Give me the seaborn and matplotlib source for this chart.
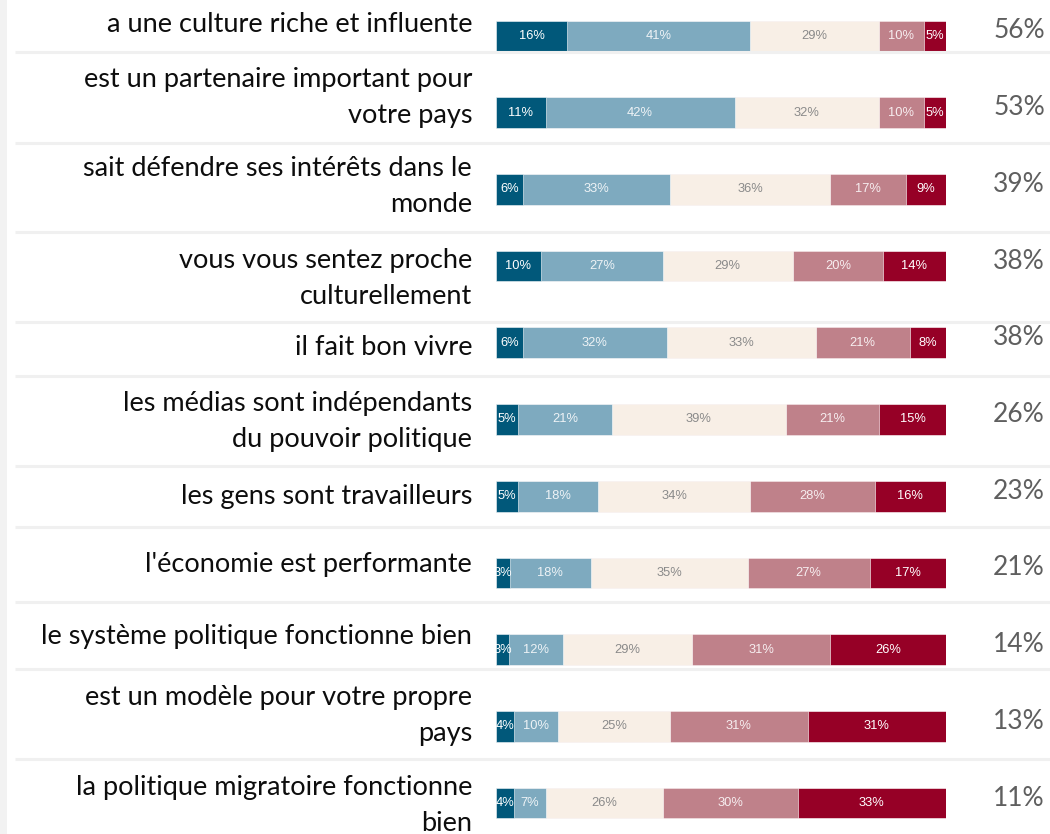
import numpy as np
import pandas as pd
import seaborn as sns
import matplotlib.pyplot as plt


# Data
labels = [
    'a une culture riche et influente',
    'est un partenaire important pour\nvotre pays',
    'sait défendre ses intérêts dans le\nmonde',
    'vous vous sentez proche\nculturellement',
    'il fait bon vivre',
    'les médias sont indépendants\ndu pouvoir politique',
    'les gens sont travailleurs',
    "l'économie est performante",
    'le système politique fonctionne bien',
    'est un modèle pour votre propre\npays',
    'la politique migratoire fonctionne\nbien',
]
very_pos = [16, 11, 6, 10, 6, 5, 5, 3, 3, 4, 4]
pos = [41, 42, 33, 27, 32, 21, 18, 18, 12, 10, 7]
neutral = [29, 32, 36, 29, 33, 39, 34, 35, 29, 25, 26]
neg = [10, 10, 17, 20, 21, 21, 28, 27, 31, 31, 30]
very_neg = [5, 5, 9, 14, 8, 15, 16, 17, 26, 31, 33]
totals = [56, 53, 39, 38, 38, 26, 23, 21, 14, 13, 11]

colors = ['#01587a', '#7eaabf', '#f8efe6', '#bf818a', '#960026']
text_colors = ['white', '#eef3f6', '#8a8a8a', '#f7eef0', 'white']

# layout tweaks (vertical offsets of the left labels, row separators)
label_dy = [-0.156, -0.2, -0.04, 0.156, 0.065, 0.026, 0.0, -0.104, -0.17, -0.143, 0.026]
sep_y = [0.21, 1.39, 2.56, 3.73, 4.43, 5.61, 6.40, 7.38, 8.25, 9.43]

df = pd.DataFrame({'label': labels, 'very_pos': very_pos, 'pos': pos,
                   'neutral': neutral, 'neg': neg, 'very_neg': very_neg})
cols = ['very_pos', 'pos', 'neutral', 'neg', 'very_neg']
# bars are normalised to the full width
pct = df[cols].div(df[cols].sum(axis=1), axis=0) * 100
cum = pct.cumsum(axis=1)
for c in cols:
    df['cum_' + c] = cum[c]

sns.set_style('white')
fig = plt.figure(figsize=(10.5, 8.34), dpi=100)
ax = fig.add_axes([496 / 1050, 0, 450 / 1050, 1])

# stacked bars: draw the cumulative totals from the longest one down
for j in reversed(range(len(cols))):
    sns.barplot(data=df, x='cum_' + cols[j], y='label', color=colors[j], orient='h',
                width=0.4, saturation=1, edgecolor='white', linewidth=0.4, ax=ax)

ax.set_xlim(0, 100)
ax.set_ylim(10.404, -0.469)
ax.axis('off')

# segment labels
for i in range(len(labels)):
    start = 0
    for j, c in enumerate(cols):
        w = pct.loc[i, c]
        ax.text(start + w / 2, i, f'{df.loc[i, c]}%', ha='center', va='center',
                fontsize=9.3, color=text_colors[j], family='Liberation Sans')
        start += w

# left labels and right totals
for i, lab in enumerate(labels):
    ax.text(-5.33, i + label_dy[i], lab, ha='right', va='center', fontsize=19.5,
            family='Lato', color='#0d0d0d', linespacing=1.55, clip_on=False)
    ax.text(122, i - 0.065, f'{totals[i]}%', ha='right', va='center', fontsize=19,
            family='Lato', color='#5f5f5f', clip_on=False)

# row separators and left stripe
ax.hlines(sep_y, -106.9, 123.1, color='#f0f0f0', lw=2.2, clip_on=False)
fig.add_artist(plt.Rectangle((0, 0), 7 / 1050, 1, transform=fig.transFigure,
                             color='#f2f2f2', lw=0))

fig.savefig('out.png', dpi=100)
